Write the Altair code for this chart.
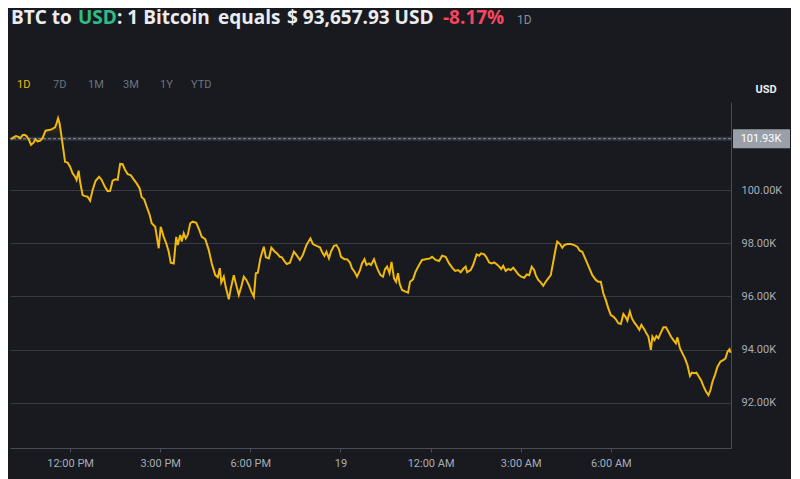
import altair as alt
import pandas as pd

# ---- data ----
minutes_after_10am = [
    2, 7, 12, 17, 21, 25, 29, 33, 38, 42, 47, 51, 55, 60, 65, 71, 78, 83, 90, 93,
    96, 99, 103, 110, 115, 120, 125, 130, 133, 137, 140, 145, 150, 155, 160, 165, 171, 178, 183, 190,
    195, 200, 205, 210, 215, 220, 225, 230, 235, 241, 247, 253, 259, 263, 268, 273, 279,
    283, 290, 297, 301, 307, 312, 317, 321, 327, 332, 335, 340, 343, 347, 351, 355, 360, 365, 372, 378,
    383, 390, 397, 403, 410, 415, 419, 422, 427, 431, 437, 441, 447, 451, 457, 462, 467, 472, 477, 482,
    487, 491, 495, 500, 507, 511, 517, 522, 529, 533, 539, 543, 549, 553, 559,
    567, 572, 579, 585, 592, 600, 605, 612, 619, 623, 628, 632, 637, 641, 647, 652, 657, 661, 668, 673,
    679, 683, 688, 693, 699, 703, 708, 712, 717, 721, 727, 731, 735, 740, 745, 749, 753, 758, 762, 767,
    771, 775, 778, 783, 790, 795, 799, 805, 810, 817, 823, 830, 839,
    843, 850, 857, 863, 870, 877, 883, 889, 895, 900, 905, 910, 913, 920, 925, 932, 937, 941, 947, 951,
    957, 962, 967, 972, 977, 981, 985, 990, 995, 1000, 1005, 1010, 1015, 1021, 1027, 1032, 1037, 1042, 1047, 1050,
    1055, 1060, 1065, 1070, 1075, 1080, 1085, 1090, 1093, 1099, 1103,
    1107, 1113, 1120, 1127, 1133, 1138, 1143, 1150, 1157, 1163, 1170, 1175, 1180, 1185, 1190, 1195, 1200, 1205, 1210, 1215,
    1220, 1225, 1229, 1233, 1238, 1242, 1247, 1252, 1257, 1261, 1267, 1271, 1275, 1280, 1283, 1287, 1291, 1295, 1300, 1305,
    1310, 1315, 1320, 1325, 1330, 1333, 1338, 1343, 1348, 1353, 1358, 1362, 1367, 1371, 1375, 1380, 1385, 1390, 1395, 1399,
    1403, 1408, 1413, 1419, 1425, 1429, 1433, 1437, 1439,
]
price_k = [
    101.91, 101.98, 102.03, 102.00, 101.95, 102.06, 102.08, 102.03, 101.88, 101.70,
    101.78, 101.91, 101.83, 101.85, 101.95, 102.23, 102.26, 102.28, 102.36, 102.51,
    102.70, 102.51, 102.00, 101.06, 101.03, 100.88, 100.63, 100.50, 100.38, 100.73,
    100.31, 99.81, 99.77, 99.75, 99.60, 100.00, 100.35, 100.50, 100.38, 100.10,
    99.96, 99.97, 100.35, 100.40, 100.38, 100.98, 100.97, 100.75, 100.60, 100.56,
    100.40, 100.25, 100.06, 99.73, 99.65, 99.37, 99.06,
    98.75, 98.62, 97.81, 98.62, 98.24, 98.00, 97.68, 97.27, 97.24, 98.24,
    97.93, 98.31, 98.06, 98.37, 98.18, 98.31, 98.75, 98.81, 98.77, 98.50,
    98.24, 98.15, 97.74, 97.24, 96.80, 96.72, 97.06, 96.52, 96.74, 96.34,
    95.89, 96.30, 96.80, 96.49, 96.05, 96.37, 96.74, 96.62, 96.43, 96.18,
    95.99, 96.87, 96.89, 97.43, 97.87, 97.47, 97.43, 97.83, 97.68, 97.62,
    97.49, 97.47, 97.30, 97.22, 97.27,
    97.68, 97.56, 97.37, 97.56, 97.93, 98.18, 97.97, 97.90, 97.85, 97.68,
    97.52, 97.68, 97.43, 97.68, 97.90, 97.93, 97.77, 97.49, 97.40, 97.40,
    97.27, 97.06, 96.93, 96.74, 96.99, 97.24, 97.40, 97.18, 97.24, 97.18,
    97.40, 97.18, 96.99, 96.80, 96.74, 97.02, 97.12, 96.87, 97.30, 96.68,
    96.55, 96.87, 96.49, 96.24, 96.18, 96.14, 96.55, 96.64, 96.93, 97.18,
    97.37, 97.40, 97.43,
    97.49, 97.37, 97.33, 97.53, 97.49, 97.24, 97.08, 96.96, 96.99, 96.91,
    97.03, 97.12, 96.91, 96.99, 97.18, 97.58, 97.53, 97.62, 97.58, 97.49,
    97.28, 97.24, 97.28, 97.21, 97.12, 97.03, 97.15, 96.96, 97.03, 96.99,
    97.08, 96.96, 96.83, 96.74, 96.70, 96.83, 96.80, 97.12, 96.99, 96.80,
    96.62, 96.53, 96.40, 96.55, 96.68, 96.80, 97.30, 97.81, 98.06, 97.96,
    97.83,
    97.93, 97.97, 97.97, 97.93, 97.87, 97.72, 97.68, 97.37, 97.06, 96.80,
    96.62, 96.55, 96.55, 96.12, 95.86, 95.55, 95.30, 95.24, 95.14, 94.99,
    94.96, 95.34, 95.24, 95.09, 95.43, 95.18, 95.01, 94.89, 94.74, 94.93,
    94.76, 94.61, 94.49, 93.99, 94.49, 94.36, 94.51, 94.43, 94.64, 94.84,
    94.84, 94.67, 94.49, 94.36, 94.24, 94.46, 94.05, 93.86, 93.67, 93.42,
    93.01, 93.13, 93.11, 93.13, 93.01, 92.86, 92.63, 92.42, 92.29, 92.48,
    92.79, 93.05, 93.36, 93.55, 93.61, 93.67, 93.92, 94.01, 93.88,
]
open_price_k = 101.93
y_ticks = [92, 94, 96, 98, 100]
x_tick_hours = [(18, 12), (18, 15), (18, 18), (18, 21), (19, 0), (19, 3), (19, 6)]
range_buttons = ["1D", "7D", "1M", "3M", "1Y", "YTD"]
range_x = [7, 43, 78, 113, 150, 181]

BG = "#181a20"
YELLOW = "#f0b90b"
GRID = "#363a43"
AXIS = "#474d57"
LABEL = "#a7adb6"
FONT = "Roboto"
TITLE_FONT = "Open Sans"

start = pd.Timestamp("2025-11-18 10:00")
df = pd.DataFrame({
    "t": start + pd.to_timedelta(minutes_after_10am, unit="m"),
    "price": price_k,
})
df["upper"] = df["price"].clip(lower=open_price_k)
df["open"] = open_price_k

x_axis = alt.Axis(
    title=None, grid=False,
    values=[alt.DateTime(year=2025, month=11, date=d, hours=h) for d, h in x_tick_hours],
    labelExpr="hours(datum.value) == 21 ? '19' : timeFormat(datum.value, '%-I:%M %p')",
    domainColor=AXIS, tickColor=AXIS, tickSize=4, labelColor=LABEL,
    labelFontSize=11, labelFont=FONT, labelPadding=5, labelFlush=False,
)
x_enc = alt.X(
    "t:T",
    scale=alt.Scale(domain=[alt.DateTime(year=2025, month=11, date=18, hours=10),
                            alt.DateTime(year=2025, month=11, date=19, hours=10)]),
    axis=x_axis,
)
y_scale = alt.Scale(domain=[90.30, 103.31], nice=False, zero=False)
y_axis = alt.Axis(
    orient="right", title=None, values=y_ticks,
    labelExpr="format(datum.value, '.2f') + 'K'",
    grid=True, gridColor=GRID, gridWidth=1, ticks=False,
    domainColor=AXIS, labelColor=LABEL, labelFontSize=11, labelFont=FONT,
    labelPadding=10,
)


def yq(field):
    return alt.Y(f"{field}:Q", scale=y_scale, axis=y_axis)


base = alt.Chart(df)

shade = base.mark_area(opacity=0.35, color=alt.Gradient(
    gradient="linear", x1=0, y1=0, x2=0, y2=1,
    stops=[alt.GradientStop(color="#8a6a10", offset=0), alt.GradientStop(color=BG, offset=1)])
).encode(x=x_enc, y=yq("upper"), y2="open:Q")

open_df = pd.DataFrame({"open": [open_price_k], "label": [f"{open_price_k:.2f}K"]})
open_band = alt.Chart(open_df).mark_rule(color="#30343c", strokeWidth=4).encode(y=yq("open"))
open_rule = alt.Chart(open_df).mark_rule(color="#8b919b", strokeWidth=1, strokeDash=[3, 2]).encode(y=yq("open"))

line = base.mark_line(color=YELLOW, strokeWidth=2).encode(x=x_enc, y=yq("price"))

open_box = alt.Chart(open_df).mark_rect(color="#9aa0a9", height=19).encode(
    x=alt.value(723), x2=alt.value(780), y=yq("open"))
open_text = alt.Chart(open_df).mark_text(color="#ffffff", fontSize=11, font=FONT, align="center",
                                          baseline="middle").encode(
    x=alt.value(751), y=yq("open"), text="label:N")


def txt(s, x, y, color, size, weight="normal", align="left", font=FONT):
    return alt.Chart(pd.DataFrame({"s": [s]})).mark_text(
        align=align, baseline="alphabetic", fontSize=size, fontWeight=weight,
        color=color, font=font).encode(x=alt.value(x), y=alt.value(y), text="s:N")


title_layers = [
    txt("BTC to", 1, -78, "#eaecef", 19, "bold", font=TITLE_FONT),
    txt("USD", 68, -78, "#2ebd85", 19, "bold", font=TITLE_FONT),
    txt(": 1 Bitcoin", 107, -78, "#eaecef", 19, "bold", font=TITLE_FONT),
    txt("equals", 208, -78, "#eaecef", 19, "bold", font=TITLE_FONT),
    txt("$ 93,657.93 USD", 277, -78, "#eaecef", 19, "bold", font=TITLE_FONT),
    txt("-8.17%", 433, -78, "#f6465d", 19, "bold", font=TITLE_FONT),
    txt("1D", 507, -78, "#848e9c", 12),
]
button_layers = [
    txt(lbl, xx, -14, YELLOW if lbl == "1D" else "#6b7380", 11)
    for lbl, xx in zip(range_buttons, range_x)
]
usd_title = txt("USD", 756, -9, "#eaecef", 11, "bold", "center")

chart = alt.layer(
    open_band, shade, open_rule, line, open_box, open_text,
    *title_layers, *button_layers, usd_title,
).properties(
    width=721, height=346,
    padding={"left": 2, "top": 94, "right": 60, "bottom": 31},
    autosize=alt.AutoSizeParams(type="none"),
).configure(background=BG).configure_view(stroke=None)

chart.save("out.html", embed_options={"renderer": "svg", "actions": False})
